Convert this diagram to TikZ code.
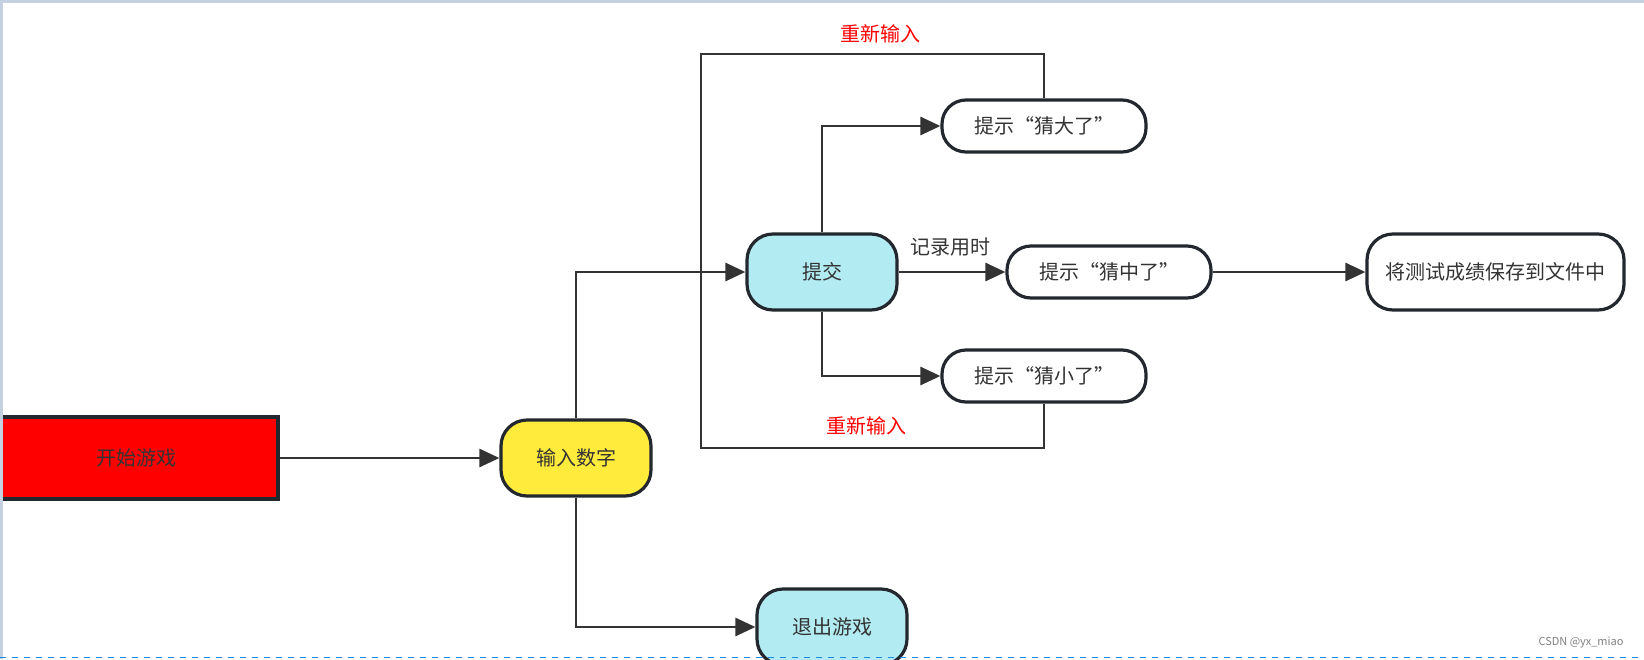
\documentclass[tikz,border=0pt]{standalone}
\usepackage{fontspec}
\setmainfont{Noto Sans CJK SC}
\usetikzlibrary{arrows.meta}

\definecolor{edgegray}{HTML}{333333}
\definecolor{boxline}{HTML}{23272E}
\definecolor{submitblue}{HTML}{B2EBF2}
\definecolor{inputyellow}{HTML}{FFEB3B}
\definecolor{framegray}{HTML}{C5D0E0}
\definecolor{dashblue}{HTML}{1E88E5}

\tikzset{
	stepnode/.style={draw=boxline, line width=1.6pt, rounded corners=13pt, text=edgegray,
		font=\fontsize{10pt}{12pt}\selectfont, inner sep=0pt},
	flow/.style={draw=edgegray, line width=1.4pt, -{Triangle[length=10pt,width=9pt]}},
	plain/.style={draw=edgegray, line width=1.4pt},
	redlbl/.style={text=red, font=\fontsize{10pt}{12pt}\selectfont}
}

\begin{document}
\begin{tikzpicture}[x=0.5pt, y=-0.5pt]
	\useasboundingbox (0,0) rectangle (1644,659);
	\fill[white] (0,0) rectangle (1644,659);

	\node[draw=boxline, line width=1.6pt, fill=red, text=edgegray, minimum width=142pt, minimum height=41pt,
		font=\fontsize{10pt}{12pt}\selectfont] (start) at (136, 458) {开始游戏};
	\node[stepnode, fill=inputyellow, minimum width=75pt, minimum height=38pt] (input) at (576, 458) {输入数字};
	\node[stepnode, fill=submitblue, minimum width=75pt, minimum height=38pt] (submit) at (822, 272) {提交};
	\node[stepnode, fill=white, minimum width=102pt, minimum height=26pt, rounded corners=12pt] (big) at (1044, 126) {提示“猜大了”};
	\node[stepnode, fill=white, minimum width=102pt, minimum height=26pt, rounded corners=12pt] (right) at (1109, 272) {提示“猜中了”};
	\node[stepnode, fill=white, minimum width=102pt, minimum height=26pt, rounded corners=12pt] (small) at (1044, 376) {提示“猜小了”};
	\node[stepnode, fill=white, minimum width=128.5pt, minimum height=38pt] (save) at (1495.5, 272) {将测试成绩保存到文件中};
	\node[stepnode, fill=submitblue, minimum width=75pt, minimum height=38pt] (quit) at (832, 627) {退出游戏};

	\coordinate (topL) at (701, 54);
	\coordinate (botL) at (701, 448);

	\draw[flow] (start) -- (input);
	\draw[flow] (input.north) |- (submit.west);
	\draw[flow] (input.south) |- (quit.west);
	\draw[flow] (submit.north) |- (big.west);
	\draw[flow] (submit.south) |- (small.west);
	\draw[flow] (submit.east) -- (right.west);
	\draw[flow] (right.east) -- (save.west);
	\draw[plain] (big.north) |- (topL) -- (botL) -| (small.south);

	\node[redlbl] (againtop) at (880, 34) {重新输入};
	\node[redlbl] (againbot) at (866, 426) {重新输入};
	\node[text=edgegray, font=\fontsize{10pt}{12pt}\selectfont] (timing) at (950, 247) {记录用时};

	\node[text=gray, font=\fontsize{5.5pt}{6pt}\selectfont] (mark) at (1581, 643) {CSDN @yx\_miao};

	% page edges
	\draw[framegray, line width=1.5pt] (0,1) -- (1644,1);
	\draw[framegray, line width=1.5pt] (1,0) -- (1,659);
	\draw[dashblue, dashed, line width=0.6pt] (0,657.5) -- (1644,657.5);
\end{tikzpicture}
\end{document}
